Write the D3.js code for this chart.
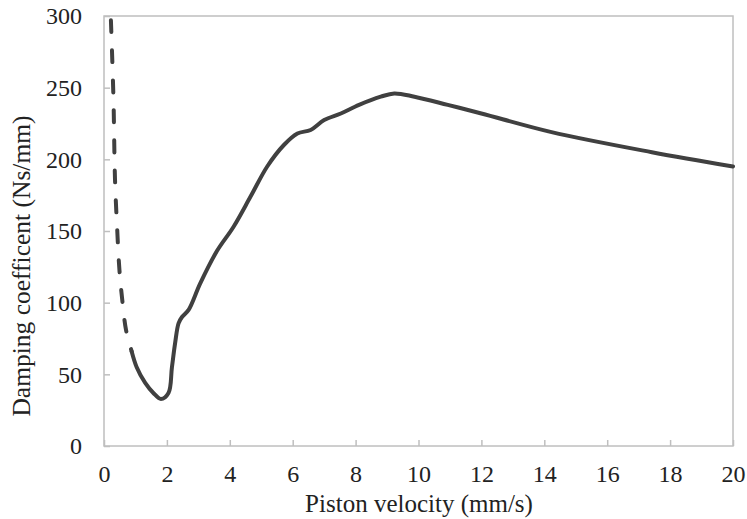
<!DOCTYPE html>
<html lang="en">
<head>
  <meta charset="UTF-8">
  <title>Damping coefficient vs piston velocity</title>
  <style>
    body { margin: 0; background: #fff; }
    text { font-family: "Liberation Serif", "Times New Roman", serif; fill: #222; }
    .frame { fill: none; stroke: #bfbfbf; stroke-width: 1.5px; }
    .tick line { stroke: #bfbfbf; stroke-width: 1.5px; }
    .domain { display: none; }
    .curve { fill: none; stroke: #404040; stroke-width: 4px; stroke-linecap: round; stroke-linejoin: round; }
  </style>
</head>
<body>
  <script src="https://d3js.org/d3.v7.min.js"></script>
  <script>
    // low-velocity branch (dashed)
    const dashedX = [0.22, 0.30, 0.35, 0.42, 0.49, 0.58, 0.70, 0.88];
    const dashedY = [297, 243, 186, 151, 123, 102, 81, 66];

    // measured branch (solid)
    const solidX = [0.88, 1.04, 1.31, 1.57, 1.81, 2.05, 2.16, 2.26, 2.37, 2.48, 2.69, 3.06, 3.59, 4.12, 4.66, 5.19, 5.72, 6.15, 6.57, 7.0, 7.53, 8.11, 8.8, 9.23, 9.87, 10.93, 12.0, 14.23, 17.42, 20];
    const solidY = [66, 55, 44, 37, 32.8, 37, 55, 71.6, 85.6, 90, 95, 113.5, 136, 153, 174, 195, 210, 218, 220.5, 227.4, 232, 238, 243.7, 246, 243.7, 238, 232, 219, 205, 195];

    const xTicks = [0, 2, 4, 6, 8, 10, 12, 14, 16, 18, 20];
    const yTicks = [0, 50, 100, 150, 200, 250, 300];

    const width = 747, height = 519;
    const margin = { top: 16, right: 14, bottom: 73, left: 104 };
    const innerW = width - margin.left - margin.right;
    const innerH = height - margin.top - margin.bottom;

    const svg = d3.select('body').append('svg')
      .attr('width', width)
      .attr('height', height);

    const g = svg.append('g')
      .attr('transform', `translate(${margin.left},${margin.top})`);

    const x = d3.scaleLinear().domain([0, 20]).range([0, innerW]);
    const y = d3.scaleLinear().domain([0, 300]).range([innerH, 0]);

    g.append('rect')
      .attr('class', 'frame')
      .attr('width', innerW)
      .attr('height', innerH);

    const xAxis = g.append('g')
      .attr('transform', `translate(0,${innerH})`)
      .call(d3.axisBottom(x).tickValues(xTicks).tickSize(-6).tickPadding(19));
    xAxis.selectAll('text').attr('font-size', 24);

    const yAxis = g.append('g')
      .call(d3.axisLeft(y).tickValues(yTicks).tickSize(-6).tickPadding(22));
    yAxis.selectAll('text').attr('font-size', 24);

    const line = d3.line()
      .x(d => x(d[0]))
      .y(d => y(d[1]))
      .curve(d3.curveCatmullRom.alpha(0.5));

    g.append('path')
      .attr('class', 'curve')
      .attr('d', line(d3.zip(dashedX, dashedY)))
      .attr('stroke-dasharray', '12,18');

    g.append('path')
      .attr('class', 'curve')
      .attr('d', line(d3.zip(solidX, solidY)));

    svg.append('text')
      .attr('x', 419)
      .attr('y', 512)
      .attr('text-anchor', 'middle')
      .attr('font-size', 25)
      .text('Piston velocity (mm/s)');

    svg.append('text')
      .attr('transform', 'translate(30,266) rotate(-90)')
      .attr('text-anchor', 'middle')
      .attr('font-size', 25.5)
      .text('Damping coefficent (Ns/mm)');
  </script>
</body>
</html>
